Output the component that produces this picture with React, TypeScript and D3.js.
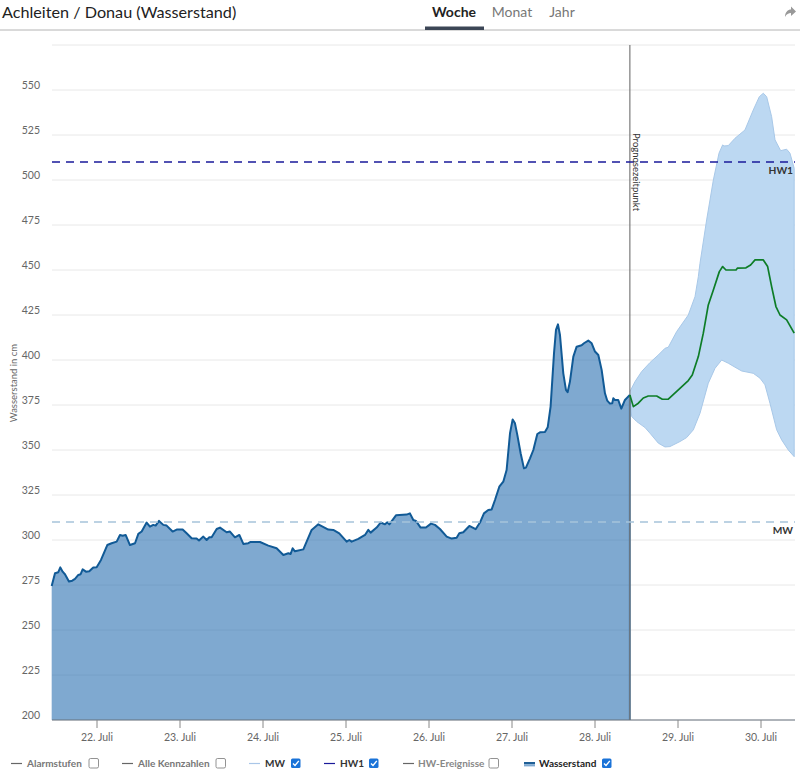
import React from "react";
import * as d3 from "d3";

const FONT = "Lato, 'Open Sans', sans-serif";

const yTickValues = [200, 225, 250, 275, 300, 325, 350, 375, 400, 425, 450, 475, 500, 525, 550, 575];
const xTickDays = [22, 23, 24, 25, 26, 27, 28, 29, 30];
const MW_LEVEL = 310;
const HW1_LEVEL = 510;
const FORECAST_DAY = 28.42;

const levelDays = [21.454,21.494,21.534,21.558,21.586,21.614,21.662,21.702,21.735,21.775,21.803,21.827,21.867,21.907,21.955,21.996,22.048,22.124,22.176,22.237,22.277,22.309,22.345,22.397,22.458,22.498,22.538,22.598,22.638,22.678,22.707,22.747,22.799,22.839,22.911,22.96,23.032,23.08,23.14,23.2,23.229,23.281,23.321,23.353,23.381,23.442,23.482,23.562,23.602,23.662,23.715,23.763,23.823,23.851,23.964,24.064,24.164,24.245,24.305,24.333,24.357,24.385,24.486,24.586,24.666,24.787,24.847,24.919,25.008,25.04,25.068,25.148,25.229,25.269,25.297,25.369,25.417,25.47,25.498,25.522,25.602,25.73,25.77,25.811,25.843,25.899,25.963,26.024,26.072,26.132,26.213,26.273,26.333,26.365,26.413,26.486,26.562,26.614,26.662,26.714,26.755,26.795,26.847,26.895,26.935,26.976,27.008,27.036,27.064,27.104,27.144,27.168,27.217,27.257,27.305,27.337,27.397,27.43,27.465,27.506,27.53,27.554,27.578,27.618,27.65,27.67,27.698,27.739,27.779,27.839,27.867,27.919,27.96,28,28.04,28.08,28.12,28.148,28.18,28.208,28.22,28.24,28.28,28.317,28.361,28.42];
const levelValues = [274.5,281.5,282.1,284.8,282.4,281,276.9,277.4,278.4,280.6,281,283.7,282.4,282.6,284.7,284.8,288.9,297.2,298.2,299.1,302.8,302.4,302.8,297.2,298.2,303.4,304.7,309.7,307.4,308.4,308,310.6,308.4,308,304.7,305.8,305.8,303.7,301,300.8,299.7,301.9,300,301.5,301.5,306.1,306.9,304.3,304.7,301.5,302.8,297.8,298.2,298.9,298.9,296.9,295.4,291.7,292.6,292.2,295.4,293.7,294.8,305.6,308.7,305.8,305.6,303.7,299.1,300,299.1,300.6,302.8,305.6,304.1,306.9,309.7,308.7,309.8,308.7,313.7,314.1,314.8,311.1,310.6,306.9,306.9,309.1,308.4,306.1,301.9,300.8,301.3,303.7,304.3,307.8,306,309.7,314.8,316.7,317,322.2,329.6,332.4,338.9,359.3,367,364.8,358.4,348.2,339.8,340.2,345.4,350,358.9,359.8,360,362.6,374.1,403.7,416.7,419.8,413.9,392.6,383.4,382.1,388,401.9,407.4,408.2,409.3,410.8,409.3,404.7,402.8,394.5,381.5,377.4,375.8,376,378.7,377.8,377.8,373,377.8,380.6];

const medianDays = [28.42,28.462,28.522,28.582,28.642,28.743,28.811,28.883,29.004,29.124,29.172,29.245,29.305,29.365,29.426,29.498,29.538,29.578,29.699,29.715,29.819,29.875,29.928,30.028,30.08,30.128,30.18,30.229,30.309,30.4];
const medianValues = [380.6,374.1,376,378.9,380,380,378.2,378.2,383.4,388.6,391.7,401.9,414.9,430.6,438.9,449.1,451.9,450,450,451,451.2,452.8,455.6,455.6,451.9,440.8,429.7,425,422.3,414.9];

const upperDays = [28.42,28.482,28.562,28.663,28.763,28.843,28.883,28.984,29.124,29.205,29.245,29.265,29.345,29.426,29.494,29.538,29.554,29.606,29.687,29.807,29.907,29.98,30.028,30.068,30.128,30.169,30.237,30.309,30.349,30.4];
const upperValues = [382.4,388,393.6,398.6,402.8,406.5,407.1,415.8,425,435.2,446.3,453.7,477.8,500,514.9,519.5,518.9,519.1,523.2,527.8,538.9,546.3,548.2,546.3,535.2,522.3,516.3,517.1,514.9,506.5];

const lowerDays = [28.42,28.442,28.502,28.602,28.663,28.763,28.843,28.903,29.024,29.104,29.185,29.265,29.365,29.446,29.526,29.606,29.687,29.767,29.907,29.988,30.048,30.108,30.189,30.249,30.329,30.4];
const lowerValues = [380.6,368.6,365.8,362.5,359.3,353.8,351.7,351.9,354.7,356.9,361.2,370.4,387.1,395.4,400,398.2,396,393.9,392.6,389.9,386.2,376,361.2,355.6,350,346.3];

const tabLabels = ["Woche", "Monat", "Jahr"];
const legendLabels = ["Alarmstufen", "Alle Kennzahlen", "MW", "HW1", "HW-Ereignisse", "Wasserstand"];
const legendChecked = [false, false, true, true, false, true];
const legendColors = ["#666", "#666", "#a9c6e8", "#1a1a9a", "#666", "#3f78ab"];
const legendTextColors = ["#777", "#777", "#333", "#333", "#888", "#222"];
const legendLineX = [11, 122, 249, 324, 403, 524];
const legendTextX = [27, 138, 265, 340, 418, 539];
const legendBoxX = [89, 216, 291, 369, 489, 602];
const tabX = [454, 512, 562];

type P = [number, number];
const zip = (a: number[], b: number[]): P[] => a.map((d, i) => [d, b[i]]);

export default function App() {
  const x = d3.scaleLinear().domain([22, 30]).range([97, 761]);
  const y = d3.scaleLinear().domain([200, 550]).range([720, 90]);
  const left = 52, right = 795;
  const line = d3.line<P>().x(d => x(d[0])).y(d => y(d[1]));
  const area = d3.area<P>().x(d => x(d[0])).y0(y(200)).y1(d => y(d[1]));
  const level = zip(levelDays, levelValues);
  const band = [...zip(upperDays, upperValues), ...zip(lowerDays, lowerValues).reverse()];
  const fx = x(FORECAST_DAY);

  return (
    <svg width={800} height={771} style={{ position: "absolute", left: 0, top: 0, background: "#fff" }} fontFamily={FONT}>
      <text x={2} y={18} fontSize={16.2} fill="#222">Achleiten / Donau (Wasserstand)</text>
      {tabLabels.map((t, i) => (
        <text key={t} x={tabX[i]} y={17} textAnchor="middle" fontSize={14} fontWeight={i === 0 ? 700 : 400} fill={i === 0 ? "#222" : "#777"}>{t}</text>
      ))}
      <line x1={0} x2={800} y1={30} y2={30} stroke="#b4b4b4" strokeWidth={1} />
      <rect x={425} y={26.5} width={59} height={3.5} fill="#3c4656" />
      <path d="M785 17 C785 12 788 9.5 791 9.5 L791 6.5 L796 11.5 L791 16 L791 13 C788.5 13 786.5 14 785 17 Z" fill="#999" />

      {yTickValues.map(v => (
        <g key={v}>
          <line x1={left} x2={right} y1={y(v)} y2={y(v)} stroke="#e8e8e8" strokeWidth={1} />
          {v < 575 && <text x={40} y={y(v) - 1} textAnchor="end" fontSize={10.5} fill="#666">{v}</text>}
        </g>
      ))}
      <text transform="translate(17,383) rotate(-90)" textAnchor="middle" fontSize={9.5} fill="#666">Wasserstand in cm</text>

      <path d={line(band) ?? ""} fill="#bcd8f2" stroke="#a8c8e8" strokeWidth={1} />
      <path d={area(level) ?? ""} fill="#2a70b0" fillOpacity={0.6} />
      <line x1={fx} x2={fx} y1={y(level[level.length - 1][1])} y2={y(200)} stroke="#2f6a9c" strokeWidth={2} strokeOpacity={0.8} />
      <line x1={fx} x2={fx} y1={45} y2={y(200)} stroke="#777" strokeWidth={1.3} strokeOpacity={0.9} />
      <path d={line(level) ?? ""} fill="none" stroke="#115a96" strokeWidth={2} strokeLinejoin="round" />
      <path d={line(zip(medianDays, medianValues)) ?? ""} fill="none" stroke="#0d7d27" strokeWidth={1.7} strokeLinejoin="round" />

      <line x1={left} x2={right} y1={y(HW1_LEVEL)} y2={y(HW1_LEVEL)} stroke="#1a1a9a" strokeWidth={1.4} strokeDasharray="8 6" />
      <line x1={left} x2={right} y1={y(MW_LEVEL)} y2={y(MW_LEVEL)} stroke="#a6c4da" strokeWidth={1.3} strokeDasharray="8 6" />
      <text x={793} y={174} textAnchor="end" fontSize={10.2} fontWeight={700} fill="#333">HW1</text>
      <text x={793} y={534} textAnchor="end" fontSize={10.2} fontWeight={700} fill="#333">MW</text>
      <text transform="translate(633,133) rotate(90)" fontSize={9.5} fill="#333">Prognosezeitpunkt</text>

      <line x1={left} x2={right} y1={y(200)} y2={y(200)} stroke="#6a7480" strokeWidth={1} />
      {xTickDays.map(d => (
        <g key={d}>
          <line x1={x(d)} x2={x(d)} y1={y(200)} y2={728} stroke="#888" strokeWidth={1} />
          <text x={x(d)} y={741} textAnchor="middle" fontSize={10.5} fill="#666">{d}. Juli</text>
        </g>
      ))}

      {legendLabels.map((t, i) => (
        <g key={t}>
          {i === 5 ? (
            <>
              <rect x={legendLineX[i]} y={762} width={11} height={2.2} fill="#1f5f96" />
              <rect x={legendLineX[i]} y={764.2} width={11} height={2.2} fill="#7fa9d0" />
            </>
          ) : (
            <line x1={legendLineX[i]} x2={legendLineX[i] + 11} y1={763.5} y2={763.5} stroke={legendColors[i]} strokeWidth={1.2} />
          )}
          <text x={legendTextX[i]} y={767} fontSize={10} fontWeight={700} fill={legendTextColors[i]}>{t}</text>
          {legendChecked[i] ? (
            <g transform={`translate(${legendBoxX[i]},758.5)`}>
              <rect width={9.5} height={9.5} rx={1.5} fill="#1a73d8" />
              <path d="M2 5 L4 7 L7.8 2.4" fill="none" stroke="#fff" strokeWidth={1.4} />
            </g>
          ) : (
            <rect x={legendBoxX[i]} y={758.5} width={9.5} height={9.5} rx={1.5} fill="#fff" stroke="#777" strokeWidth={0.8} />
          )}
        </g>
      ))}
    </svg>
  );
}
